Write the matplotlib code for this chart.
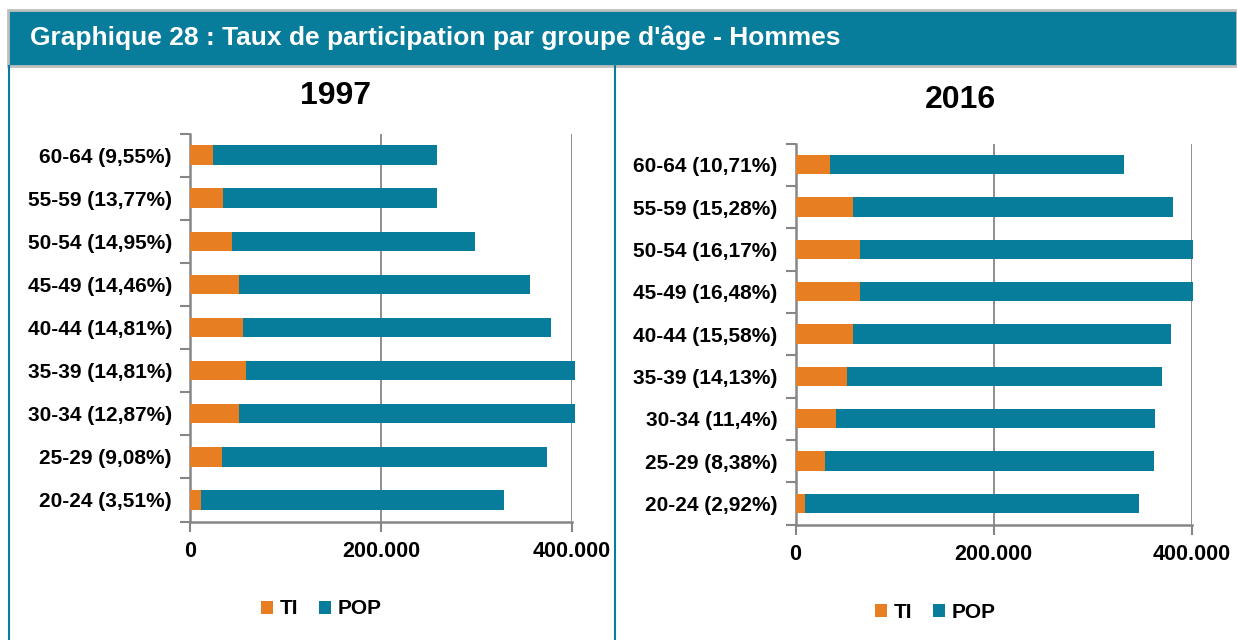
import matplotlib.pyplot as plt
from matplotlib.patches import Rectangle
from matplotlib.lines import Line2D
from matplotlib.ticker import FixedLocator

plt.rcParams['font.family'] = ['Liberation Sans', 'DejaVu Sans']
plt.rcParams['font.weight'] = 'bold'

# Données (de bas en haut : 20-24 ... 60-64)
labels_1997 = ["20-24 (3,51%)", "25-29 (9,08%)", "30-34 (12,87%)", "35-39 (14,81%)",
               "40-44 (14,81%)", "45-49 (14,46%)", "50-54 (14,95%)", "55-59 (13,77%)",
               "60-64 (9,55%)"]
ti_1997 = [11000, 33000, 51500, 59000, 55500, 51000, 44000, 35000, 24000]
pop_1997 = [317500, 340400, 351400, 343900, 322000, 304900, 254100, 224000, 234600]

labels_2016 = ["20-24 (2,92%)", "25-29 (8,38%)", "30-34 (11,4%)", "35-39 (14,13%)",
               "40-44 (15,58%)", "45-49 (16,48%)", "50-54 (16,17%)", "55-59 (15,28%)",
               "60-64 (10,71%)"]
ti_2016 = [9800, 30000, 41000, 52000, 58500, 65500, 65500, 58000, 35000]
pop_2016 = [336700, 332600, 322000, 318600, 320600, 335700, 336500, 323100, 297000]

xticks = [0, 200000, 400000]
xticklabels = ["0", "200.000", "400.000"]

orange = '#E87E22'
teal = '#077C9B'
gris = '#868686'

W, H = 1237, 640
fig = plt.figure(figsize=(W / 100, H / 100), dpi=100)

# Bandeau du titre
fig.patches.append(Rectangle((8 / W, 1 - 66 / H), 1 - 8 / W, 56 / H, transform=fig.transFigure,
                             facecolor=teal, edgecolor='#BFBFBF', linewidth=2, zorder=0))
fig.text(30 / W, 1 - 38 / H, "Graphique 28 : Taux de participation par groupe d'âge - Hommes",
         color='white', fontsize=19, fontweight='bold', va='center', ha='left')

# Bordures des panneaux
for xb in [8.5, 615]:
    fig.lines.append(Line2D([xb / W, xb / W], [0, 1 - 66 / H], transform=fig.transFigure,
                            color=teal, linewidth=1.5))


def panneau(rect, labels, ti, pop, titre, titre_xy, legende_xy):
    ax = fig.add_axes(rect)
    y = list(range(len(labels)))
    ax.barh(y, ti, height=0.45, color=orange, clip_on=False, zorder=3, label='TI')
    ax.barh(y, pop, left=ti, height=0.45, color=teal, clip_on=False, zorder=3, label='POP')
    ax.set_xlim(0, 400000)
    ax.set_ylim(-0.5, len(labels) - 0.5)
    ax.set_yticks(y)
    ax.set_yticklabels(labels, fontsize=15, fontweight='bold')
    ax.yaxis.set_minor_locator(FixedLocator([i - 0.5 for i in range(len(labels) + 1)]))
    ax.tick_params(axis='y', which='major', length=0, pad=13)
    ax.tick_params(axis='y', which='minor', length=7, width=1.5, color=gris)
    ax.set_xticks(xticks)
    ax.set_xticklabels(xticklabels, fontsize=15.5, fontweight='bold')
    ax.tick_params(axis='x', length=7, width=1.5, color=gris, pad=7)
    ax.grid(axis='x', color=gris, linewidth=1.3)
    ax.set_axisbelow(True)
    for s in ['top', 'right']:
        ax.spines[s].set_visible(False)
    for s in ['left', 'bottom']:
        ax.spines[s].set_color(gris)
        ax.spines[s].set_linewidth(1.8)
    fig.text(titre_xy[0] / W, 1 - titre_xy[1] / H, titre, fontsize=23, fontweight='bold',
             ha='center', va='center')
    h, l = ax.get_legend_handles_labels()
    fig.legend(h, l, loc='center', bbox_to_anchor=(legende_xy[0] / W, 1 - legende_xy[1] / H),
               ncol=2, frameon=False, fontsize=15, handlelength=0.6, handleheight=0.6,
               handletextpad=0.3, columnspacing=1.0)
    return ax


panneau([190 / W, 1 - 521.5 / H, 382 / W, 388 / H], labels_1997, ti_1997, pop_1997,
        "1997", (335, 96), (321, 609))
panneau([795.5 / W, 1 - 524.5 / H, 396 / W, 381 / H], labels_2016, ti_2016, pop_2016,
        "2016", (960, 100), (935, 612))

fig.savefig('out.png', dpi=100, facecolor='white')
